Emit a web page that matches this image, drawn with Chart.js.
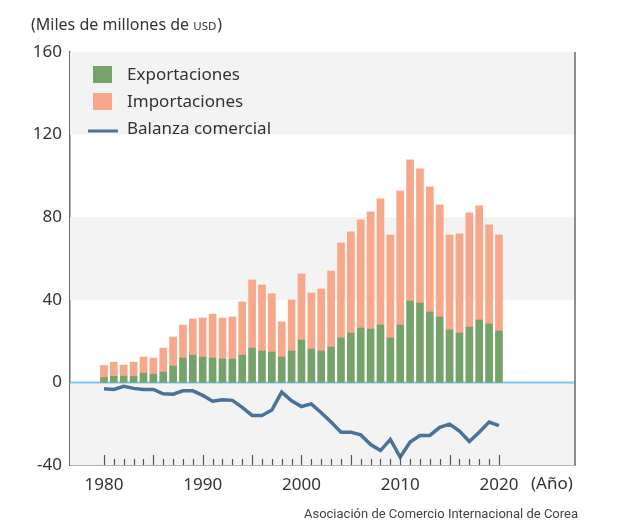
<!DOCTYPE html>
<html>
<head>
<meta charset="utf-8">
<script src="https://cdn.jsdelivr.net/npm/chart.js@4.4.1/dist/chart.umd.min.js"></script>
<style>
  html, body { margin: 0; padding: 0; background: #fff; }
  #wrap { width: 624px; height: 523px; position: relative; }
</style>
</head>
<body>
<div id="wrap"><canvas id="myChart" width="624" height="523"></canvas></div>
<script>
const years = [1980, 1981, 1982, 1983, 1984, 1985, 1986, 1987, 1988, 1989,
    1990, 1991, 1992, 1993, 1994, 1995, 1996, 1997, 1998, 1999,
    2000, 2001, 2002, 2003, 2004, 2005, 2006, 2007, 2008, 2009,
    2010, 2011, 2012, 2013, 2014, 2015, 2016, 2017, 2018, 2019, 2020];
const exportaciones = [2.4, 3.0, 3.0, 3.0, 4.5, 4.0, 5.0, 7.9, 11.8, 13.2,
    12.3, 11.8, 11.3, 11.3, 13.2, 16.6, 15.2, 14.7, 12.3, 15.2,
    20.5, 16.1, 15.2, 17.1, 21.5, 23.9, 26.3, 25.8, 27.8, 21.5,
    27.8, 39.4, 38.4, 34.1, 31.7, 25.4, 23.9, 26.8, 30.2, 28.3, 24.9];
const importaciones = [5.8, 6.8, 5.4, 6.8, 7.8, 7.8, 11.6, 14.1, 16.0, 17.5,
    18.9, 21.3, 19.9, 20.4, 25.8, 33.0, 32.0, 28.2, 17.0, 24.7,
    32.0, 27.2, 30.0, 36.8, 46.0, 49.0, 52.4, 56.8, 61.1, 49.9,
    65.0, 68.4, 65.0, 60.6, 54.3, 46.0, 48.0, 55.3, 55.3, 48.0, 46.5];
const balanza = [-3.1, -3.4, -1.9, -2.9, -3.4, -3.4, -5.5, -5.7, -4.1, -4.1,
    -6.3, -9.1, -8.4, -8.7, -12.1, -16.0, -16.0, -13.4, -4.7, -8.9,
    -11.7, -10.4, -14.7, -19.2, -24.1, -24.1, -25.4, -30.1, -33.0, -27.6,
    -36.2, -28.9, -25.7, -25.7, -21.8, -20.2, -23.6, -28.6, -24.1, -19.2, -20.9];
const yTicks = [-40, 0, 40, 80, 120, 160];
const xTickLabels = [1980, 1990, 2000, 2010, 2020];
const grayBands = [[120, 160], [40, 80], [-40, 0]];

const FONT = "'Noto Sans', sans-serif";
const TEXT = '#333333';
const AXIS = '#6b6b6b';

function xy(vals) {
    return years.map((y, i) => ({ x: y, y: vals[i] }));
}

const decor = {
    id: 'decor',
    beforeDatasetsDraw(chart) {
        const ctx = chart.ctx;
        const a = chart.chartArea;
        const ys = chart.scales.y;
        ctx.save();
        ctx.fillStyle = '#f3f3f3';
        grayBands.forEach(b => {
            const top = ys.getPixelForValue(b[1]);
            const bot = ys.getPixelForValue(b[0]);
            ctx.fillRect(a.left, top, a.right - a.left, bot - top);
        });
        // zero line
        const y0 = ys.getPixelForValue(0);
        ctx.strokeStyle = '#7cc8ea';
        ctx.lineWidth = 2;
        ctx.beginPath();
        ctx.moveTo(a.left, y0);
        ctx.lineTo(a.right, y0);
        ctx.stroke();
        ctx.restore();
    },
    afterDraw(chart) {
        const ctx = chart.ctx;
        const a = chart.chartArea;
        const xs = chart.scales.x;
        ctx.save();
        // right border
        ctx.strokeStyle = AXIS;
        ctx.lineWidth = 1.5;
        ctx.beginPath();
        ctx.moveTo(a.right, a.top);
        ctx.lineTo(a.right, a.bottom);
        ctx.stroke();
        // inner ticks
        ctx.lineWidth = 1.2;
        ctx.strokeStyle = '#555';
        years.forEach(yr => {
            const px = Math.round(xs.getPixelForValue(yr)) + 0.5;
            const len = yr % 5 === 0 ? 10 : 6;
            ctx.beginPath();
            ctx.moveTo(px, a.bottom);
            ctx.lineTo(px, a.bottom - len);
            ctx.stroke();
        });
        // title
        ctx.fillStyle = TEXT;
        ctx.textBaseline = 'alphabetic';
        ctx.textAlign = 'left';
        let x = 31;
        ctx.font = '16px ' + FONT;
        const t1 = '(Miles de millones de ';
        ctx.fillText(t1, x, 30);
        x += ctx.measureText(t1).width;
        ctx.font = '11.5px ' + FONT;
        ctx.fillText('USD', x, 30);
        x += ctx.measureText('USD').width + 1;
        ctx.font = '16px ' + FONT;
        ctx.fillText(')', x, 30);
        // year unit
        ctx.font = '17px ' + FONT;
        ctx.fillText('(Año)', 531, 489);
        // legend
        const ds = chart.data.datasets;
        const rows = [ds[0], ds[1], ds[2]];
        ctx.font = '17px ' + FONT;
        ctx.textBaseline = 'middle';
        rows.forEach((d, i) => {
            const cy = 75 + i * 27;
            if (d.type === 'line') {
                ctx.strokeStyle = d.borderColor;
                ctx.lineWidth = 3;
                ctx.beginPath();
                ctx.moveTo(88, cy + 2);
                ctx.lineTo(118, cy + 2);
                ctx.stroke();
            } else {
                ctx.fillStyle = d.backgroundColor;
                ctx.fillRect(93, cy - 9, 19, 17);
            }
            ctx.fillStyle = TEXT;
            ctx.fillText(d.label, 127, cy);
        });
        // source
        ctx.textAlign = 'right';
        ctx.textBaseline = 'alphabetic';
        ctx.font = "13px 'Liberation Sans Narrow', 'Roboto', sans-serif";
        ctx.fillStyle = '#444';
        ctx.fillText('Asociación de Comercio Internacional de Corea', 578, 518);
        ctx.restore();
    }
};

new Chart('myChart', {
    data: {
        datasets: [{
            type: 'bar',
            label: 'Exportaciones',
            data: xy(exportaciones),
            backgroundColor: '#76a369',
            barThickness: 7,
            stack: 's',
            order: 2
        }, {
            type: 'bar',
            label: 'Importaciones',
            data: xy(importaciones),
            backgroundColor: '#f7a78a',
            barThickness: 7,
            stack: 's',
            order: 2
        }, {
            type: 'line',
            label: 'Balanza comercial',
            data: xy(balanza),
            borderColor: '#4a7399',
            borderWidth: 3.5,
            pointRadius: 0,
            tension: 0,
            order: 1
        }]
    },
    options: {
        responsive: false,
        animation: false,
        layout: { padding: { left: 0, top: 52, right: 49, bottom: 0 } },
        plugins: { legend: { display: false }, tooltip: { enabled: false } },
        scales: {
            x: {
                type: 'linear',
                stacked: true,
                offset: false,
                min: 1976.56,
                max: 2027.7,
                afterFit: s => { s.height = 58; },
                afterBuildTicks: s => { s.ticks = xTickLabels.map(v => ({ value: v })); },
                grid: { display: false, drawTicks: false, offset: false },
                border: { display: true, color: AXIS, width: 1.5 },
                ticks: {
                    padding: 10,
                    color: TEXT,
                    font: { family: FONT, size: 17 },
                    maxRotation: 0,
                    callback: v => String(v)
                }
            },
            y: {
                stacked: true,
                min: -40,
                max: 160,
                afterFit: s => { s.width = 70; },
                afterBuildTicks: s => { s.ticks = yTicks.map(v => ({ value: v })); },
                grid: { display: false, drawTicks: false },
                border: { display: true, color: AXIS, width: 1.5 },
                ticks: {
                    padding: 8,
                    color: TEXT,
                    font: { family: FONT, size: 17 },
                    callback: v => String(v)
                }
            }
        }
    },
    plugins: [decor]
});
</script>
</body>
</html>
